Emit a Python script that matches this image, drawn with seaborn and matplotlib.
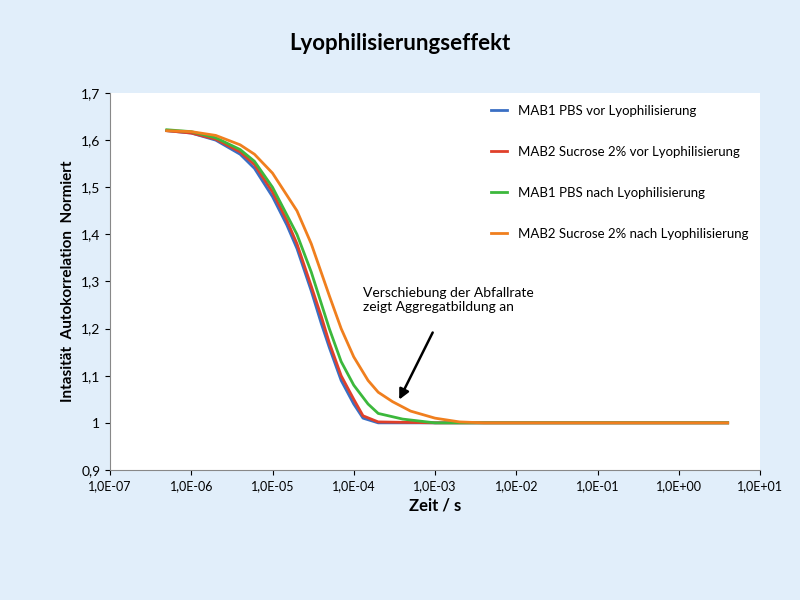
import matplotlib
matplotlib.use("Agg")
import matplotlib.pyplot as plt
import seaborn as sns
import pandas as pd

t_blue = [5e-7,1e-6,2e-6,4e-6,6e-6,1e-5,1.5e-5,2e-5,3e-5,4e-5,5e-5,7e-5,1e-4,1.3e-4,2e-4,1e-3,1e-2,1e-1,1,4]
v_blue = [1.62,1.615,1.60,1.57,1.54,1.48,1.42,1.37,1.28,1.21,1.16,1.09,1.04,1.01,1.0,1.0,1.0,1.0,1.0,1.0]
t_red = [5e-7,1e-6,2e-6,4e-6,6e-6,1e-5,1.5e-5,2e-5,3e-5,4e-5,5e-5,7e-5,1e-4,1.3e-4,2e-4,1e-3,1e-2,1e-1,1,4]
v_red = [1.62,1.615,1.602,1.575,1.548,1.49,1.43,1.38,1.29,1.225,1.17,1.10,1.05,1.015,1.002,1.0,1.0,1.0,1.0,1.0]
t_green = [5e-7,1e-6,2e-6,4e-6,6e-6,1e-5,2e-5,3e-5,5e-5,7e-5,1e-4,1.5e-4,2e-4,4e-4,1e-3,1e-2,1e-1,1,4]
v_green = [1.622,1.618,1.605,1.58,1.555,1.50,1.40,1.32,1.20,1.13,1.08,1.04,1.02,1.008,1.0,1.0,1.0,1.0,1.0]
t_orange = [5e-7,1e-6,2e-6,4e-6,6e-6,1e-5,2e-5,3e-5,5e-5,7e-5,1e-4,1.5e-4,2e-4,3e-4,5e-4,1e-3,2e-3,4e-3,1e-2,1e-1,1,4]
v_orange = [1.62,1.618,1.61,1.59,1.57,1.53,1.45,1.38,1.27,1.20,1.14,1.09,1.065,1.045,1.025,1.01,1.002,1.0,1.0,1.0,1.0,1.0]
labels = ["MAB1 PBS vor Lyophilisierung","MAB2 Sucrose 2% vor Lyophilisierung",
          "MAB1 PBS nach Lyophilisierung","MAB2 Sucrose 2% nach Lyophilisierung"]
colors = ["#3a6fc4","#e0402a","#3cb83c","#f07f1e"]
x_ticks = [1e-7,1e-6,1e-5,1e-4,1e-3,1e-2,1e-1,1e0,1e1]
x_labels = ["1,0E-07","1,0E-06","1,0E-05","1,0E-04","1,0E-03","1,0E-02","1,0E-01","1,0E+00","1,0E+01"]
y_ticks = [0.9,1.0,1.1,1.2,1.3,1.4,1.5,1.6,1.7]
y_labels = ["0,9","1","1,1","1,2","1,3","1,4","1,5","1,6","1,7"]

frames = []
for t, v, l in zip([t_blue,t_red,t_green,t_orange],[v_blue,v_red,v_green,v_orange],labels):
    frames.append(pd.DataFrame({"t":t,"v":v,"s":l}))
df = pd.concat(frames)

plt.rcParams["font.family"] = "Lato"
fig = plt.figure(figsize=(8,6), dpi=100, facecolor="#e1eefa")
ax = fig.add_axes([0.1375,0.2167,0.8125,0.6283])
sns.lineplot(data=df, x="t", y="v", hue="s", palette=colors, ax=ax, linewidth=2, sort=False)
ax.set_xscale("log")
ax.set_xlim(1e-7,1e1); ax.set_ylim(0.9,1.7)
ax.set_xticks(x_ticks); ax.set_xticklabels(x_labels, fontsize=9)
ax.minorticks_off()
ax.set_yticks(y_ticks); ax.set_yticklabels(y_labels, fontsize=10)
ax.set_xlabel("Zeit / s", fontsize=12, fontweight="bold")
ax.set_ylabel("Intasität  Autokorrelation  Normiert", fontsize=11, fontweight="bold")
for s in ["top","right"]:
    ax.spines[s].set_visible(False)
for s in ["left","bottom"]:
    ax.spines[s].set_color("#888888")
leg = ax.legend(frameon=False, loc="upper right", fontsize=9.5, labelspacing=2.2, handlelength=1.2, bbox_to_anchor=(1.0,1.0))
fig.suptitle("Lyophilisierungseffekt", y=0.945, fontsize=16, fontweight="bold")
ax.text(1.3e-4, 1.26, "Verschiebung der Abfallrate\nzeigt Aggregatbildung an", fontsize=10, va="center")
ax.annotate("", xy=(3.5e-4,1.044), xytext=(9.7e-4,1.197),
            arrowprops=dict(arrowstyle="-|>", color="black", lw=1.8, mutation_scale=15))
fig.savefig("out.png", facecolor=fig.get_facecolor())
